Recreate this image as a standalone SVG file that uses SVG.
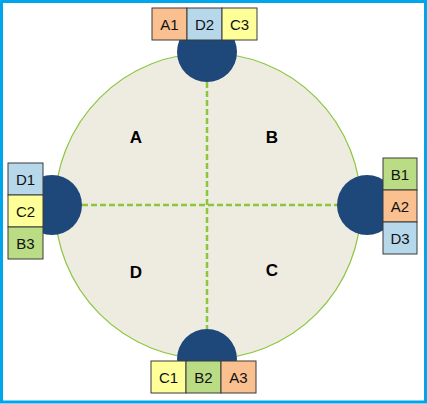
<svg xmlns="http://www.w3.org/2000/svg" width="427" height="404" viewBox="0 0 427 404">
<style>
.bx{stroke:#3a3a3a;stroke-width:1}
.o{fill:#fac08f}.b{fill:#b7d7ea}.y{fill:#ffff99}.g{fill:#b9dc84}
.t{font-family:"Liberation Sans",Arial,sans-serif;font-size:15px;fill:#111;text-anchor:middle}
.q{font-family:"Liberation Sans",Arial,sans-serif;font-size:17px;font-weight:bold;fill:#000;text-anchor:middle}
.hub{fill:#1f487a}
.dash{stroke:#8cc63f;stroke-width:2.5;stroke-dasharray:6,3;fill:none}
</style>
<rect x="1.5" y="1.5" width="424" height="400.5" fill="#fff" stroke="#00a6ec" stroke-width="3"/>
<g id="main">
<circle cx="208" cy="206" r="153" fill="#eeebe1" stroke="#8cc63f" stroke-width="1.2"/>
<text class="q" x="136" y="143">A</text>
<text class="q" x="272" y="143">B</text>
<text class="q" x="272" y="276">C</text>
<text class="q" x="136" y="278">D</text>
</g>
<g id="connectors">
<line class="dash" x1="207" y1="82" x2="207" y2="330"/>
<line class="dash" x1="82" y1="205" x2="338" y2="205"/>
</g>
<g id="hub-top"><circle class="hub" cx="207" cy="52" r="30"/></g>
<g id="hub-left"><circle class="hub" cx="52" cy="205" r="30"/></g>
<g id="hub-right"><circle class="hub" cx="367" cy="205" r="30"/></g>
<g id="hub-bottom"><circle class="hub" cx="207" cy="359" r="30"/></g>
<g id="boxes-top">
<rect class="bx o" x="152" y="8" width="35" height="32"/><text class="t" x="169.5" y="29.5">A1</text>
<rect class="bx b" x="187" y="8" width="35" height="32"/><text class="t" x="204.5" y="29.5">D2</text>
<rect class="bx y" x="222" y="8" width="35" height="32"/><text class="t" x="239.5" y="29.5">C3</text>
</g>
<g id="boxes-left">
<rect class="bx b" x="8" y="163" width="35" height="32"/><text class="t" x="25.5" y="184.5">D1</text>
<rect class="bx y" x="8" y="195" width="35" height="32"/><text class="t" x="25.5" y="216.5">C2</text>
<rect class="bx g" x="8" y="227" width="35" height="32"/><text class="t" x="25.5" y="248.5">B3</text>
</g>
<g id="boxes-right">
<rect class="bx g" x="383" y="158" width="34" height="32"/><text class="t" x="400" y="179.5">B1</text>
<rect class="bx o" x="383" y="190" width="34" height="32"/><text class="t" x="400" y="211.5">A2</text>
<rect class="bx b" x="383" y="222" width="34" height="32"/><text class="t" x="400" y="243.5">D3</text>
</g>
<g id="boxes-bottom">
<rect class="bx y" x="151" y="361" width="35" height="32"/><text class="t" x="168.5" y="382.5">C1</text>
<rect class="bx g" x="186" y="361" width="35" height="32"/><text class="t" x="203.5" y="382.5">B2</text>
<rect class="bx o" x="221" y="361" width="35" height="32"/><text class="t" x="238.5" y="382.5">A3</text>
</g>
</svg>
